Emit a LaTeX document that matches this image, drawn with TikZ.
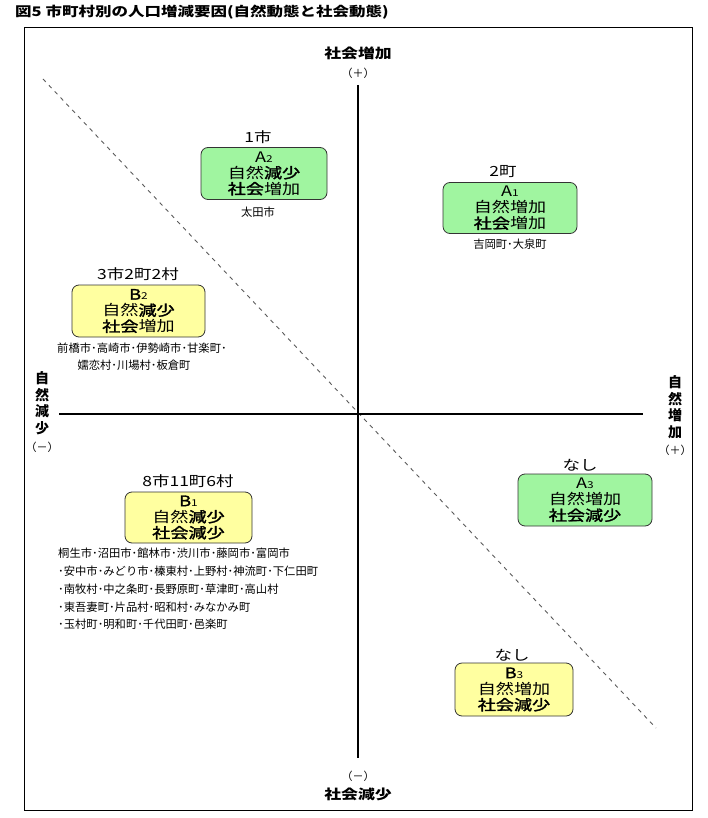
\documentclass[tikz,border=0pt]{standalone}
\usepackage{fontspec}
\setmainfont{Noto Sans CJK JP}
\newfontfamily\wide[FakeStretch=1.25]{Noto Sans CJK JP}
\newfontfamily\wmed[FakeStretch=1.25,FakeBold=2]{Noto Sans CJK JP}
\definecolor{boxgreen}{RGB}{160,245,160}
\definecolor{boxyellow}{RGB}{255,255,160}
\definecolor{dashgray}{RGB}{90,90,90}
\newcommand{\sub}[1]{{\fontsize{9.5}{9.5}\selectfont #1}}
\newcommand{\bd}[1]{{\wmed #1}}
\tikzset{
  box/.style={draw=black!80, line width=0.8pt, rounded corners=7pt, align=center, inner sep=0pt,
    font=\wide\fontsize{14.5}{16}\selectfont},
  gbox/.style={box, fill=boxgreen},
  ybox/.style={box, fill=boxyellow},
  cnt/.style={font=\wide\fontsize{14}{16}\selectfont, inner sep=0pt},
  small/.style={font=\fontsize{11.3}{13}\selectfont, inner sep=0pt},
  axlab/.style={font=\wide\bfseries\fontsize{13.5}{16}\selectfont, inner sep=0pt, align=center},
  paren/.style={font=\fontsize{11}{12}\selectfont, inner sep=0pt},
  axis/.style={line width=1.8pt, black},
  diag/.style={dashgray, line width=0.9pt, dash pattern=on 4pt off 4.5pt}
}
\begin{document}
\begin{tikzpicture}[x=1pt,y=-1pt]
\useasboundingbox (0,0) rectangle (708,818);
% title
\node[anchor=west, inner sep=0pt, font=\wide\bfseries\fontsize{13.2}{15}\selectfont] (title) at (15,12)
  {図5\ 市町村別の人口増減要因(自然動態と社会動態)};
% frame
\draw[line width=0.9pt] (24.5,27) rectangle (692.5,810);
% diagonal
\coordinate (d1) at (43,79);
\coordinate (d2) at (656,728);
\draw[diag] (d1) -- (d2);
% axes
\coordinate (vt) at (358,85);
\coordinate (vb) at (358,758);
\coordinate (hl) at (59,414);
\coordinate (hr) at (643,414);
\draw[axis] (vt) -- (vb);
\draw[axis] (hl) -- (hr);
% axis labels
\node[axlab] (topl) at (358,53) {社会増加};
\node[paren] (topp) at (358,73) {（＋）};
\node[paren] (botp) at (358,776) {（－）};
\node[axlab] (botl) at (358,794) {社会減少};
\node[axlab, font=\bfseries\fontsize{14}{16.5}\selectfont] (leftl) at (42,403) {自\\然\\減\\少};
\node[paren] (leftp) at (42,447) {（－）};
\node[axlab, font=\bfseries\fontsize{14}{16.5}\selectfont] (rightl) at (675,407) {自\\然\\増\\加};
\node[paren] (rightp) at (675,450) {（＋）};
% A2
\node[gbox, minimum width=126pt, minimum height=52pt] (a2) at (264,173.5)
  {A\sub{2}\\自然\bd{減少}\\\bd{社会}増加};
\node[cnt] (a2c) at (258,137) {1市};
\node[small] (a2l) at (258,212) {太田市};
% A1
\node[gbox, minimum width=134pt, minimum height=51pt] (a1) at (510,208)
  {A\sub{1}\\自然増加\\\bd{社会}増加};
\node[cnt] (a1c) at (503,172) {2町};
\node[small] (a1l) at (510,244) {吉岡町･大泉町};
% B2
\node[ybox, minimum width=133pt, minimum height=52pt] (b2) at (138.5,311)
  {\bd{B}\sub{2}\\自然\bd{減少}\\\bd{社会}増加};
\node[cnt] (b2c) at (138,274) {3市2町2村};
\node[small, anchor=west] (b2l1) at (57,348) {前橋市･高崎市･伊勢崎市･甘楽町･};
\node[small] (b2l2) at (134,365) {嬬恋村･川場村･板倉町};
% B1
\node[ybox, minimum width=127pt, minimum height=51pt] (b1) at (188.5,517.5)
  {\bd{B}\sub{1}\\自然\bd{減少}\\\bd{社会減少}};
\node[cnt] (b1c) at (188,481) {8市11町6村};
\node[small, anchor=west] (b1l1) at (58,553) {桐生市･沼田市･館林市･渋川市･藤岡市･富岡市};
\node[small, anchor=west] (b1l2) at (58,571) {･安中市･みどり市･榛東村･上野村･神流町･下仁田町};
\node[small, anchor=west] (b1l3) at (58,589) {･南牧村･中之条町･長野原町･草津町･高山村};
\node[small, anchor=west] (b1l4) at (58,607) {･東吾妻町･片品村･昭和村･みなかみ町};
\node[small, anchor=west] (b1l5) at (58,624) {･玉村町･明和町･千代田町･邑楽町};
% A3
\node[gbox, minimum width=134pt, minimum height=52pt] (a3) at (585,500)
  {A\sub{3}\\自然増加\\\bd{社会減少}};
\node[cnt] (a3c) at (580,465) {なし};
% B3
\node[ybox, minimum width=118pt, minimum height=53pt] (b3) at (514,689.5)
  {\bd{B}\sub{3}\\自然増加\\\bd{社会減少}};
\node[cnt] (b3c) at (512,655) {なし};
\end{tikzpicture}
\end{document}
